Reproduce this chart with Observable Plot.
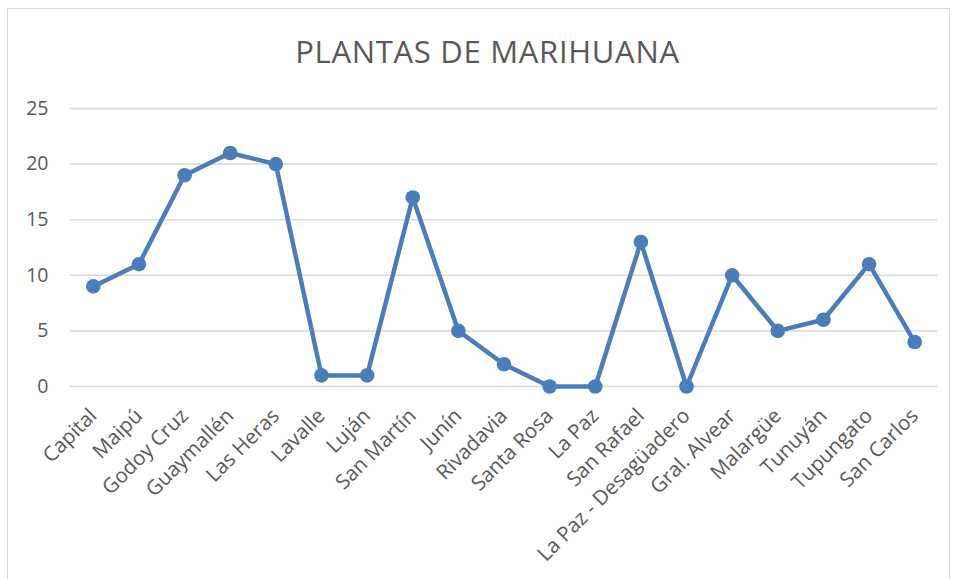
<!DOCTYPE html>
<html>
<head>
<meta charset="utf-8">
<script src="https://cdn.jsdelivr.net/npm/d3@7"></script>
<script src="https://cdn.jsdelivr.net/npm/@observablehq/plot@0.6"></script>
<style>
  html, body { margin: 0; padding: 0; background: #fff; }
  #wrap { position: relative; width: 954px; height: 579px; overflow: hidden; font-family: "Open Sans", sans-serif; }
  #frame { position: absolute; left: 7px; top: 8px; width: 943px; height: 600px; border: 1.5px solid #d9d9d9; box-sizing: border-box; }
  #title { position: absolute; left: 0; width: 975px; top: 30px; text-align: center; font-size: 31px; letter-spacing: 0.7px; font-weight: 400; color: #595959; line-height: normal; white-space: nowrap; }
  #chart { position: absolute; left: 0; top: 0; }
</style>
</head>
<body>
<div id="wrap">
  <div id="frame"></div>
  <div id="chart"></div>
  <div id="title">PLANTAS DE MARIHUANA</div>
</div>
<script>
const departments = ["Capital", "Maipú", "Godoy Cruz", "Guaymallén", "Las Heras", "Lavalle", "Luján", "San Martín", "Junín", "Rivadavia", "Santa Rosa", "La Paz", "San Rafael", "La Paz - Desagüadero", "Gral. Alvear", "Malargüe", "Tunuyán", "Tupungato", "San Carlos"];
const plants = [9, 11, 19, 21, 20, 1, 1, 17, 5, 2, 0, 0, 13, 0, 10, 5, 6, 11, 4];
const yTicks = [0, 5, 10, 15, 20, 25];

const data = departments.map((d, i) => ({dept: d, value: plants[i]}));
const blue = "#4a7ebb";
const font = "'Open Sans', sans-serif";

const chart = Plot.plot({
  width: 954,
  height: 579,
  marginTop: 108,
  marginBottom: 193,
  marginLeft: 70,
  marginRight: 17,
  style: {fontFamily: font, fontSize: "19px", color: "#595959", background: "transparent"},
  x: {type: "point", domain: departments, padding: 0.5, round: false, label: null},
  y: {domain: [0, 25], label: null},
  marks: [
    Plot.ruleY(yTicks, {stroke: "#d9d9d9", strokeWidth: 1.5}),
    Plot.axisY({ticks: yTicks, tickSize: 0, tickPadding: 22, label: null, fill: "#595959", fontSize: 19.5, fontFamily: font}),
    Plot.axisX({tickSize: 0, tickRotate: -45, tickPadding: 26, label: null, fill: "#595959", fontSize: 20.5, fontFamily: font}),
    Plot.line(data, {x: "dept", y: "value", stroke: blue, strokeWidth: 4.5, strokeLinejoin: "round"}),
    Plot.dot(data, {x: "dept", y: "value", fill: blue, r: 7.3})
  ]
});
document.getElementById("chart").appendChild(chart);
</script>
</body>
</html>
